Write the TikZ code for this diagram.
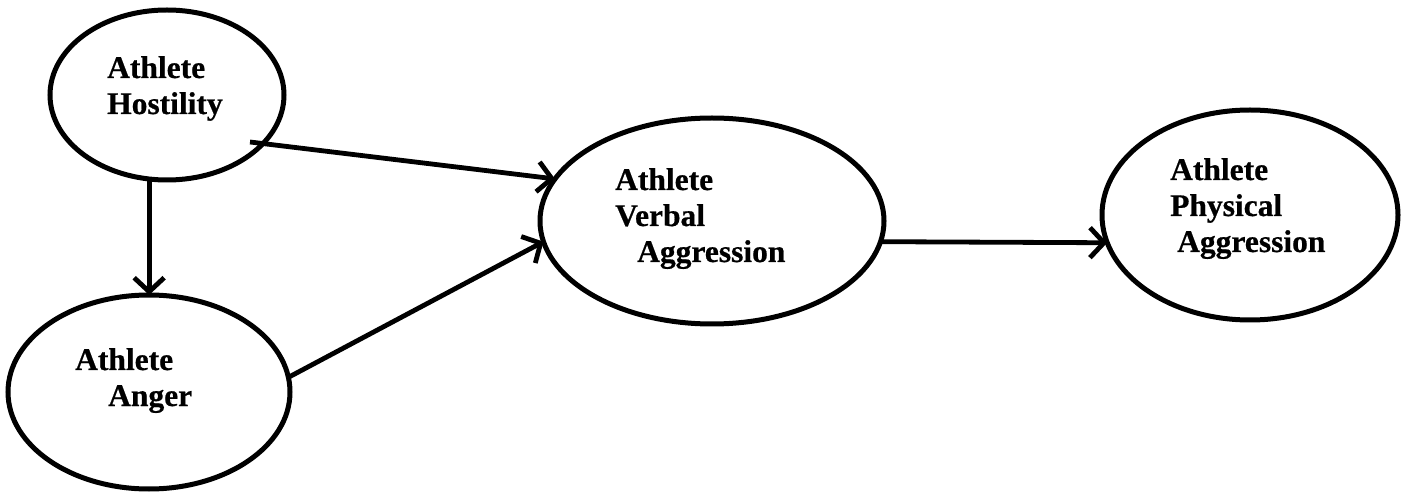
\documentclass[tikz,border=0pt]{standalone}
\usepackage{fontspec}
\setmainfont{Liberation Serif}[BoldFeatures={FakeBold=0.6}]
\usetikzlibrary{shapes.geometric,arrows.meta,calc}
\tikzset{
  blob/.style={draw=black, ellipse, line width=5pt, inner sep=0pt, outer sep=0pt},
  lbl/.style={anchor=base west, inner sep=0pt, font=\fontsize{31.5}{36}\selectfont\bfseries},
  conn/.style={line width=4.8pt, -{Straight Barb[length=14pt,width=30pt]}},
}
\begin{document}
\begin{tikzpicture}[x=1pt,y=-1pt]
\useasboundingbox[fill=white] (0,0) rectangle (1403,494);
\node[blob, minimum width=234pt, minimum height=170pt] (host) at (167,95) {};
\node[blob, minimum width=282pt, minimum height=194pt] (anger) at (149,392) {};
\node[blob, minimum width=344pt, minimum height=206pt] (verbal) at (712,221) {};
\node[blob, minimum width=296pt, minimum height=210pt] (phys) at (1250,215) {};

\node[lbl] (hostT) at (107,78) {\vtop{\hbox{Athlete}\hbox{Hostility}}};
\node[lbl] (angerT) at (75,370) {\vtop{\hbox{Athlete}\hbox{\hspace{33pt}Anger}}};
\node[lbl] (verbalT) at (615,190) {\vtop{\hbox{Athlete}\hbox{Verbal}\hbox{\hspace{22pt}Aggression}}};
\node[lbl] (physT) at (1170,180) {\vtop{\hbox{Athlete}\hbox{Physical}\hbox{\hspace{7pt}Aggression}}};

\draw[conn] (host.-102) -- (host.-102 |- anger.north);
\draw[conn] ([shift={(83,47)}]host.center) -- (verbal.165);
\draw[conn] (anger.6) -- (verbal.187);
\draw[conn] (verbal.-7) -- (phys.191);
\end{tikzpicture}
\end{document}
